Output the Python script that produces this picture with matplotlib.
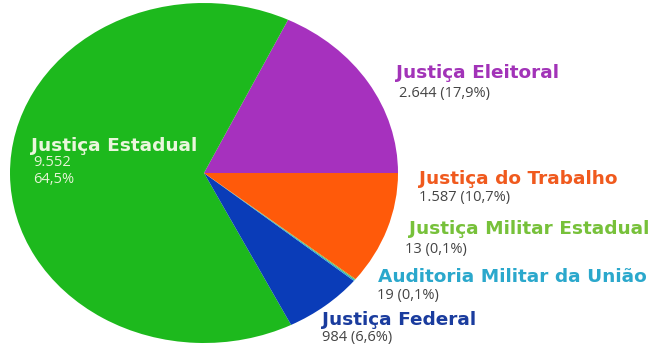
import matplotlib.pyplot as plt

# Processos por ramo da justiça
ramos = ['Justiça Eleitoral', 'Justiça Estadual', 'Justiça Federal',
         'Auditoria Militar da União', 'Justiça Militar Estadual', 'Justiça do Trabalho']
valores = [2644, 9552, 984, 19, 13, 1587]
rotulos_valor = ['2.644 (17,9%)', '9.552\n64,5%', '984 (6,6%)',
                 '19 (0,1%)', '13 (0,1%)', '1.587 (10,7%)']
cores_fatia = ['#a631be', '#1db91d', '#0a3cb8', '#2ba8cc', '#77c13a', '#ff5a0a']
cores_texto = ['#a233b8', '#eaf6dc', '#1a3c9e', '#2ba8cc', '#77c13a', '#f05a1e']

W, H = 660, 347
fig = plt.figure(figsize=(W / 100, H / 100), dpi=100)

# pizza levemente achatada: eixo sem aspecto fixo
ax = fig.add_axes([10 / W, 4 / H, 388 / W, 340 / H])
ax.pie(valores, colors=cores_fatia, startangle=0, counterclock=True,
       wedgeprops=dict(linewidth=0))
ax.set_aspect('auto')
ax.set_xlim(-1, 1)
ax.set_ylim(-1, 1)
ax.axis('off')

# posições (px) do título e do valor de cada ramo
pos_titulo = [(396, 73), (31, 146), (322, 320), (378, 277), (409, 229), (419, 179)]
pos_valor = [(399, 93), (33, 171), (322, 338), (377, 296), (405, 250), (419, 198)]


def px(x, y):
    return x / W, 1 - y / H


for i, ramo in enumerate(ramos):
    fig.text(*px(*pos_titulo[i]), ramo, color=cores_texto[i], fontsize=13.3,
             fontweight='bold', family='DejaVu Sans', va='center', ha='left')
    cor_val = '#e6f4d6' if i == 1 else '#444444'
    fig.text(*px(*pos_valor[i]), rotulos_valor[i], color=cor_val, fontsize=10.5,
             family='Open Sans', va='center', ha='left', linespacing=1.1)

fig.savefig('out.png', dpi=100)
